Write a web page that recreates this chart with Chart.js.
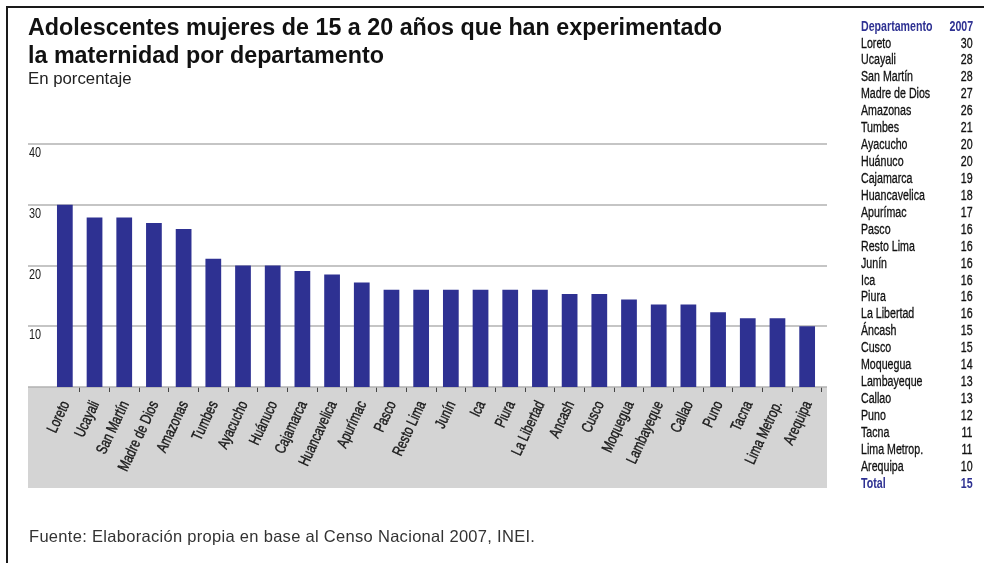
<!DOCTYPE html>
<html lang="es">
<head>
  <meta charset="UTF-8" />
  <title>Adolescentes mujeres de 15 a 20 años que han experimentado la maternidad</title>
  <script src="https://cdn.jsdelivr.net/npm/chart.js"></script>
  <style>
    body {
      margin: 0;
      background: #fff;
      font-family: "Liberation Sans", Arial, sans-serif;
    }
    #page {
      position: relative;
      width: 984px;
      height: 563px;
      overflow: hidden;
    }
    #frame {
      position: absolute;
      left: 6px;
      top: 6px;
      width: 1100px;
      height: 700px;
      border: 2px solid #1a1a1a;
    }
    #chart {
      position: absolute;
      left: 0;
      top: 0;
    }
    .title {
      position: absolute;
      left: 28px;
      top: 13px;
      font-weight: bold;
      font-size: 23.3px;
      line-height: 28px;
      color: #111;
      white-space: nowrap;
    }
    .subtitle {
      position: absolute;
      left: 28px;
      top: 69px;
      font-size: 16.8px;
      line-height: 19px;
      color: #222;
    }
    .source {
      position: absolute;
      left: 29px;
      top: 527px;
      font-size: 16.5px;
      letter-spacing: 0.3px;
      line-height: 18px;
      color: #333;
      white-space: nowrap;
    }
    .row {
      position: absolute;
      left: 861px;
      width: 112px;
      height: 17px;
      font-size: 14px;
      line-height: 17px;
      color: #111;
      white-space: nowrap;
      -webkit-text-stroke: 0.3px #111;
    }
    .row span {
      position: absolute;
      top: 0;
      transform: scaleX(0.76);
    }
    .row .n { left: 0; transform-origin: left center; }
    .row .v { right: 0; transform-origin: right center; }
    .row.head, .row.total {
      color: #2e3192;
      font-weight: bold;
      -webkit-text-stroke: 0;
    }
  </style>
</head>
<body>
  <div id="page">
    <canvas id="chart" width="984" height="563"></canvas>
    <div id="frame"></div>
    <div class="title">Adolescentes mujeres de 15 a 20 años que han experimentado<br>la maternidad por departamento</div>
    <div class="subtitle">En porcentaje</div>
    <div class="source">Fuente: Elaboración propia en base al Censo Nacional 2007, INEI.</div>
    <div id="tabla"></div>
  </div>

  <script>
    // bar chart data
    const categories = ['Loreto', 'Ucayali', 'San Martín', 'Madre de Dios', 'Amazonas', 'Tumbes', 'Ayacucho',
      'Huánuco', 'Cajamarca', 'Huancavelica', 'Apurímac', 'Pasco', 'Resto Lima', 'Junín', 'Ica', 'Piura',
      'La Libertad', 'Ancash', 'Cusco', 'Moquegua', 'Lambayeque', 'Callao', 'Puno', 'Tacna', 'Lima Metrop.', 'Arequipa'];
    const barValues = [30, 27.9, 27.9, 27, 26, 21.1, 20, 20, 19.1, 18.5, 17.2, 16, 16, 16, 16, 16,
      16, 15.3, 15.3, 14.4, 13.6, 13.6, 12.3, 11.3, 11.3, 10];
    const yTicks = [0, 10, 20, 30, 40];

    // side table
    const tableHeader = ['Departamento', '2007'];
    const tableNames = ['Loreto', 'Ucayali', 'San Martín', 'Madre de Dios', 'Amazonas', 'Tumbes', 'Ayacucho',
      'Huánuco', 'Cajamarca', 'Huancavelica', 'Apurímac', 'Pasco', 'Resto Lima', 'Junín', 'Ica', 'Piura',
      'La Libertad', 'Áncash', 'Cusco', 'Moquegua', 'Lambayeque', 'Callao', 'Puno', 'Tacna', 'Lima Metrop.', 'Arequipa'];
    const tableValues = [30, 28, 28, 27, 26, 21, 20, 20, 19, 18, 17, 16, 16, 16, 16, 16,
      16, 15, 15, 14, 13, 13, 12, 11, 11, 10];
    const tableTotal = ['Total', 15];

    const FONT = '"Liberation Sans", Arial, sans-serif';
    const NARROW = 0.75; // no narrow face installed, squeeze horizontally
    const PLOT_LEFT = 28, PLOT_RIGHT = 827, BAND_BOTTOM = 488, LABEL_TOP = 402;

    // table rows
    const rows = [tableHeader].concat(tableNames.map((n, i) => [n, tableValues[i]]), [tableTotal]);
    const tabla = document.getElementById('tabla');
    rows.forEach((r, i) => {
      const div = document.createElement('div');
      div.className = 'row' + (i === 0 ? ' head' : (i === rows.length - 1 ? ' total' : ''));
      div.style.top = (17.6 + i * 16.93) + 'px';
      div.innerHTML = `<span class="n">${r[0]}</span><span class="v">${r[1]}</span>`;
      tabla.appendChild(div);
    });

    const backdrop = {
      id: 'backdrop',
      // grey band behind the category labels
      beforeDraw(chart) {
        const c = chart.ctx;
        const y0 = chart.scales.y.getPixelForValue(0);
        c.save();
        c.fillStyle = '#d4d4d4';
        c.fillRect(PLOT_LEFT, y0, PLOT_RIGHT - PLOT_LEFT, BAND_BOTTOM - y0);
        c.restore();
      },
      // gridlines + y labels sit under the bars
      beforeDatasetsDraw(chart) {
        const c = chart.ctx;
        const ys = chart.scales.y;
        c.save();
        c.strokeStyle = '#b2b2b2';
        c.lineWidth = 1.5;
        c.fillStyle = '#1a1a1a';
        c.font = '14.5px ' + FONT;
        yTicks.forEach(t => {
          const py = Math.round(ys.getPixelForValue(t));
          c.beginPath();
          c.moveTo(PLOT_LEFT, py);
          c.lineTo(PLOT_RIGHT, py);
          c.stroke();
          if (t > 0) {
            c.save();
            c.translate(PLOT_LEFT + 1, py + 12.5);
            c.scale(NARROW, 1);
            c.fillText(String(t), 0, 0);
            c.restore();
          }
        });
        c.restore();
      },
      // rotated, condensed category labels
      afterDraw(chart) {
        const c = chart.ctx;
        const xs = chart.scales.x;
        c.save();
        c.fillStyle = '#1a1a1a';
        c.strokeStyle = '#1a1a1a';
        c.lineWidth = 0.4;
        c.font = '15.5px ' + FONT;
        c.textAlign = 'right';
        c.textBaseline = 'middle';
        categories.forEach((name, i) => {
          c.save();
          c.translate(xs.getPixelForTick(i) + 1, LABEL_TOP);
          c.rotate(-65 * Math.PI / 180);
          c.scale(NARROW, 1);
          c.fillText(name, 0, 0);
          c.strokeText(name, 0, 0);
          c.restore();
        });
        c.restore();
      }
    };

    new Chart(document.getElementById('chart'), {
      type: 'bar',
      data: {
        labels: categories,
        datasets: [{
          data: barValues,
          backgroundColor: '#2e3192',
          borderWidth: 0,
          categoryPercentage: 1,
          barPercentage: 0.53
        }]
      },
      options: {
        responsive: false,
        animation: false,
        devicePixelRatio: 1,
        layout: { padding: { left: 50, right: 162, top: 144, bottom: 76 } },
        plugins: { legend: { display: false }, tooltip: { enabled: false } },
        scales: {
          x: {
            border: { display: false },
            grid: {
              offset: true,
              drawOnChartArea: false,
              drawTicks: true,
              tickLength: 5,
              color: ctx => (ctx.index === 0 || ctx.index === categories.length) ? 'rgba(0,0,0,0)' : '#444'
            },
            ticks: { display: false, autoSkip: false },
            afterFit(scale) { scale.height = 100; }
          },
          y: {
            display: false,
            min: 0,
            max: 40
          }
        }
      },
      plugins: [backdrop]
    });
  </script>
</body>
</html>
